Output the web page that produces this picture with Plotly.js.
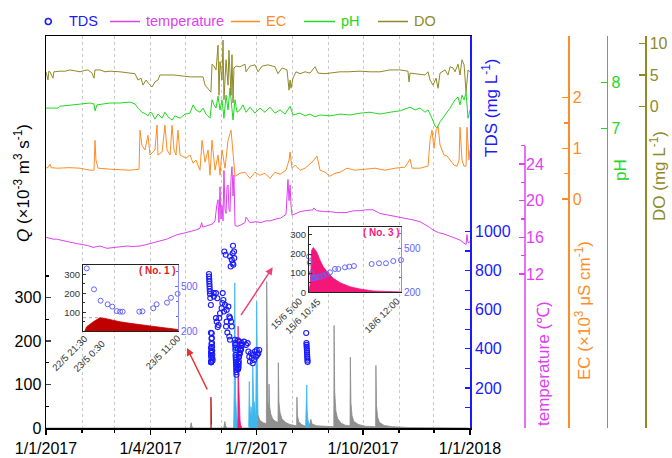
<!DOCTYPE html>
<html><head><meta charset="utf-8">
<script src="https://cdn.plot.ly/plotly-3.0.1.min.js"></script>
<style>html,body{margin:0;padding:0;background:#fff}</style>
</head><body><div id="chart" style="width:672px;height:458px"></div>
<script>
// ---------------- DATA ----------------
// Discharge Q (x10^-3 m3/s), grey background series
const qGreyTime = ["2017-01-01","2017-05-05 00:00","2017-05-06 00:00","2017-05-06 12:00","2017-05-08 00:00",
 "2017-06-03 00:00","2017-06-04 00:00","2017-06-04 12:00","2017-06-06 00:00","2017-07-02 11:00","2017-07-02 12:00",
 "2017-07-04 00:00","2017-07-07 00:00","2017-07-09 18:00","2017-07-10 00:00","2017-07-10 12:00","2017-07-11 00:00",
 "2017-07-11 18:00","2017-07-12 00:00","2017-07-12 12:00","2017-07-13 12:00","2017-07-15 00:00","2017-07-17 00:00",
 "2017-07-19 18:00","2017-07-20 00:00","2017-07-20 12:00","2017-07-21 12:00","2017-07-23 00:00","2017-07-26 00:00",
 "2017-07-30 00:00","2017-08-04 18:00","2017-08-05 00:00","2017-08-05 12:00","2017-08-06 12:00","2017-08-09 00:00",
 "2017-08-12 12:00","2017-08-16 00:00","2017-08-17 00:00","2017-08-18 00:00","2017-08-22 00:00","2017-09-05 18:00",
 "2017-09-06 00:00","2017-09-06 12:00","2017-09-07 12:00","2017-09-09 00:00","2017-09-12 00:00","2017-09-16 00:00",
 "2017-09-19 18:00","2017-09-20 00:00","2017-09-20 12:00","2017-09-21 12:00","2017-09-23 00:00","2017-09-27 00:00",
 "2017-10-03 00:00","2017-10-11 18:00","2017-10-12 00:00","2017-10-12 12:00","2017-10-13 12:00","2017-10-15 00:00",
 "2017-10-19 00:00","2017-10-26 00:00","2017-11-10 00:00","2017-12-31 00:00"];
const qGreyVal = [0,0,12,4,0, 0,15,5,0,0,30, 18,12,10,337,120,60, 45,101,50,32,22,16, 13,150,60,35,22,13,
 8,5,71,28,15,8, 4,8,20,9,5,3, 236,85,40,22,11,6, 5,163,58,28,15,8, 4,3,144,52,25,13, 6,3,1,0];
// Cyan events
const qCyanATime = ["2017-06-11 12:00","2017-06-12 00:00","2017-06-12 12:00","2017-06-12 18:00","2017-06-13 06:00","2017-06-14 00:00","2017-06-14 18:00","2017-06-15 04:00","2017-06-15 04:30"];
const qCyanAVal = [0,90,334,150,70,35,15,8,0];
const qCyanBTime = ["2017-06-24 12:00","2017-06-25 00:00","2017-06-25 12:00","2017-06-26 00:00","2017-06-26 12:00","2017-06-27 00:00","2017-06-27 12:00","2017-06-28 00:00","2017-06-28 12:00","2017-06-29 00:00","2017-06-29 06:00","2017-06-29 18:00","2017-06-30 12:00","2017-07-01 09:00","2017-07-01 18:00","2017-07-02 06:00","2017-07-02 12:00"];
const qCyanBVal = [3,107,40,25,49,30,25,145,60,40,60,30,22,291,110,50,30];
const qCyanCTime = ["2017-08-12 12:00","2017-08-13 12:00","2017-08-13 20:00","2017-08-14 12:00","2017-08-15 12:00","2017-08-16 00:00"];
const qCyanCVal = [4,99,40,18,9,8];
// Event No.1 (22/5 - 23/5)
const ev1Time = ["2017-05-22 21:45","2017-05-22 22:02","2017-05-22 22:58","2017-05-22 23:55","2017-05-23 00:36","2017-05-23 01:35","2017-05-23 02:45","2017-05-23 04:10","2017-05-23 05:36","2017-05-23 07:00","2017-05-23 08:26","2017-05-23 09:53","2017-05-23 10:48","2017-05-23 11:00"];
const ev1Q = [0,23,49,71,67,58,49,41,32,27,20,14,9,8];
const ev1TdsTime = ["2017-05-22 22:02","2017-05-22 23:04","2017-05-23 00:00","2017-05-23 01:00","2017-05-23 01:40","2017-05-23 02:18","2017-05-23 02:46","2017-05-23 03:08","2017-05-23 05:30","2017-05-23 05:57","2017-05-23 07:29","2017-05-23 07:58","2017-05-23 09:26","2017-05-23 10:00","2017-05-23 10:57"];
const ev1Tds = [624,482,405,381,365,335,331,331,331,333,354,381,392,425,452];
// Event No.3 (15/6 - 18/6)
const ev3Time = ["2017-06-15 04:30","2017-06-15 06:00","2017-06-15 06:45","2017-06-15 07:18","2017-06-15 08:42","2017-06-15 10:00","2017-06-15 11:36","2017-06-15 14:26","2017-06-15 17:18","2017-06-15 21:34","2017-06-16 01:54","2017-06-16 07:38","2017-06-16 16:12","2017-06-17 00:48","2017-06-17 12:12","2017-06-18 11:54"];
const ev3Q = [0,40,130,220,234,222,211,168,133,99,73,50,29,17,7,2];
const ev3TdsTime = ["2017-06-15 05:00","2017-06-15 05:40","2017-06-15 07:18","2017-06-15 08:42","2017-06-15 10:00","2017-06-15 11:36","2017-06-15 14:26","2017-06-15 17:18","2017-06-15 20:12","2017-06-15 23:00","2017-06-16 03:18","2017-06-16 06:12","2017-06-16 11:54","2017-06-16 15:36","2017-06-16 19:36","2017-06-17 10:48","2017-06-17 17:06","2017-06-17 23:06","2017-06-18 05:24","2017-06-18 12:00"];
const ev3Tds = [443,402,330,295,298,302,306,313,325,336,359,359,370,375,379,393,398,398,413,420];
// TDS (mg/L) other samples, day of year 2017
const tdsDay = [140.3,140.4,140.5,140.6,140.7,140.8,140.9,141.0,141.2,141.4,
 142.7,142.8,142.9,143.0,143.1,143.2,143.3,143.4,144.4,144.5,
 146.3,147.5,146.3,146.9,147.8,148.4,149.2,149.8,151.2,151.8,152.1,152.7,154.1,153.2,155.5,155.5,155.0,156.1,157.0,157.8,158.4,159.3,159.9,157.8,158.4,
 153.5,154.7,158.4,159.9,160.7,161.3,159.0,162.1,160.7,161.9,161.0,
 162.6,162.8,163.0,163.2,163.4,163.6,163.8,164.0,162.9,163.1,163.3,163.5,163.7,163.9,
 166.4,168.5,170.5,172.2,173.6,
 174.2,175.0,175.6,176.5,177.1,178.0,178.5,179.1,179.9,180.8,181.4,181.9,182.8,183.6,
 224.0,224.2,224.3,224.4,224.5,224.6,224.7,224.8,224.9,225.0,225.1,225.2];
const tdsVal = [783,770,757,745,732,720,707,694,680,660,
 480,455,430,410,390,370,350,340,685,667,
 685,659,557,539,511,522,557,582,608,634,685,650,625,591,599,539,514,483,616,565,557,539,514,463,446,
 898,881,872,855,838,830,821,864,889,898,927,
 446,420,394,369,343,318,292,267,430,405,356,330,305,280,
 437,429,437,420,429,
 386,360,335,377,352,326,369,343,386,360,394,369,377,394,
 481,430,420,410,400,390,380,370,360,350,340,333];
// Temperature (deg C)
const tempDay = [0,3,6,9,12.1,16,20.7,23.2,27,31.9,36,40.5,44,46.5,50,52.5,56,59.4,64,69.7,75,80.9,86,92.1,96,100.7,104,109.3,113,117,120.5,125,129,132.6,134,135,138,142,143.8,145.5,147,148.1,148.9,149.8,150.6,151.5,152.4,153.2,154.1,155.0,155.8,156.7,157.5,158.4,159.3,160.1,161.0,161.8,162.7,164.4,167,171.3,172.2,175.6,180.8,185,189.4,193,198,202,206.6,208.3,209.2,210.1,210.9,211.8,215.2,218.7,223,229.9,230.5,233,240,244.5,250,258.3,265,270.3,275,281.5,287.5,292,298.7,305,316,322,326.3,330,333.2,338,341.8,347,350.4,356.4,361.6,362.4,363.3,365];
const tempVal = [16.0,15.9,15.8,15.8,15.7,15.6,15.5,15.4,15.3,15.2,15.1,14.9,15.0,15.05,14.9,14.8,14.85,14.9,15.0,15.05,15.0,15.05,15.2,15.4,15.5,15.7,15.8,16.1,16.3,16.4,16.5,16.7,16.8,17.0,17.6,17.1,17.2,17.4,17.5,17.8,19.5,20.1,17.6,21.5,18.0,19.5,17.8,23.3,19.0,18.6,21.5,21.7,19.0,18.8,22.5,23.7,20.5,22.8,17.3,17.2,17.3,17.6,18.2,17.6,17.7,17.6,17.8,17.8,18.0,18.1,18.5,22.3,20.0,21.7,19.5,18.4,18.6,18.8,18.9,19.0,19.2,18.9,18.8,18.8,18.7,18.7,18.9,18.9,19.0,19.0,18.6,18.5,18.3,18.2,17.9,17.7,17.4,17.1,16.8,16.5,16.4,16.2,16.0,15.7,15.2,16.3,15.4,15.5];
// EC (x10^3 uS/cm)
const ecDay = [0,2,3.4,4.5,10,20,29.3,37.9,41.3,42.2,43.0,44.8,55.1,72.3,80.1,80.9,82.6,85.2,87.8,89.5,93.8,95.6,96.4,99.9,102.4,104.2,106.8,108.5,110.2,111.9,113.6,115.4,120.5,124.0,126.6,129.1,132.6,134.3,136.9,139.5,141.2,142.9,145.5,148.1,149.8,151.5,154.1,156.7,159.3,161.0,162.7,167,171.3,175.6,179.9,184.2,188.5,192.8,197.1,201.5,206.6,209.2,210.1,211.8,214.4,218.7,223,229,231.6,233.3,235.9,240.2,244.5,248.8,253.1,259.1,266,274.6,283.2,291.8,300.5,309.1,313.4,315.1,322,328.9,330.6,332.3,334,335.8,337.5,339.2,342.6,345.2,347.8,351.2,353.8,355.6,356.4,358.1,359.9,361.6,362.4,364.1,365];
const ecVal = [0.61,0.63,0.69,0.62,0.61,0.62,0.61,0.57,0.57,1.16,0.77,0.61,0.59,0.57,0.59,1.36,1.06,0.97,1.26,0.87,0.97,1.46,0.87,0.93,1.46,0.97,0.87,1.46,0.97,0.87,1.36,0.87,0.81,0.87,0.71,0.77,0.57,1.16,0.73,0.97,0.47,1.16,0.57,0.87,0.47,0.97,0.61,1.16,1.36,0.97,0.45,0.51,0.53,0.41,0.53,0.47,0.51,0.41,0.53,0.49,0.57,0.77,0.93,0.61,0.67,0.57,0.61,0.73,0.81,0.85,0.57,0.53,0.45,0.51,0.53,0.61,0.57,0.59,0.61,0.57,0.61,0.63,0.79,0.61,0.61,0.65,1.16,1.36,1.0,1.36,1.44,1.07,0.87,0.85,0.77,0.67,0.65,0.77,1.42,0.77,0.65,0.65,1.42,0.77,0.97];
// pH
const phDay = [0,5,10.3,12.1,16,20.7,25,29.3,35,37.9,41.3,42.2,43.9,50,55.1,63.7,72.3,76.6,79.2,82.6,86,87.8,89.5,91.3,93.8,96.4,99.9,102.4,105,108.5,111.1,115.4,119.7,124,126.6,129.1,132.6,135.2,137.7,141.2,142.9,144.6,146.4,148.1,149.8,151.5,153.2,155,156.7,158.4,160.1,161,162.7,164.4,167,169.6,172.2,175.6,179.9,184.2,188.5,192.8,197.1,201.5,205.8,210.1,212.6,218.7,223,227.3,231.6,235.9,244.5,253.1,261.7,270.3,278.9,287.5,296.2,304.8,309.1,313.4,317.7,322,326.3,328.9,332.3,334.9,336.6,339.2,343.5,347.8,352.1,354.7,356.4,358.1,359.9,361.6,363.3,365];
const phVal = [7.44,7.44,7.44,7.48,7.49,7.51,7.51,7.53,7.54,7.55,7.53,7.38,7.51,7.54,7.55,7.55,7.57,7.53,7.44,7.35,7.31,7.27,7.35,7.33,7.20,7.31,7.22,7.35,7.25,7.18,7.27,7.22,7.31,7.33,7.51,7.40,7.35,7.44,7.31,7.22,7.62,7.51,7.44,7.70,7.40,7.62,7.22,7.72,7.40,7.88,7.29,7.18,7.62,7.35,7.40,7.51,7.35,7.46,7.33,7.44,7.35,7.46,7.33,7.40,7.31,7.48,7.29,7.33,7.27,7.31,7.25,7.29,7.27,7.31,7.29,7.33,7.35,7.31,7.35,7.38,7.42,7.46,7.40,7.44,7.35,7.40,7.22,7.05,7.01,7.14,7.29,7.44,7.62,7.68,7.51,7.72,7.62,7.79,7.22,7.40];
// DO (mg/L)
const doDay = [0,1.7,2.5,3.4,6.0,6.8,12.1,16.4,20.7,25,29.3,33,36.2,39.6,41.3,42.2,46.5,50.8,55.1,63.7,72.3,76.6,79.2,81.8,83.5,86.1,88.7,91.3,93.8,96.4,98.1,110,124,135.2,136.9,140.3,142,142.9,144.6,146.4,148.1,148.9,149.8,151.5,152.4,153.2,155,156.7,157.5,159.3,160.1,161,161.8,163.6,167,171.3,172.2,175.6,179.9,182.5,186,191.1,197.1,199.7,203.2,207.5,209.2,210.1,210.9,212.6,215.2,218.7,223,227.3,231.6,234.2,240.2,244.5,253.1,260,270.3,278.9,287.5,296.2,304.8,311.6,312.5,313.4,317.7,326.3,328.9,330.6,333.2,335.8,337.5,339.2,343.5,346.1,347.8,350.4,352.1,354.7,356.4,358.1,359.9,361.6,363.3,365];
const doVal = [5.5,4.2,5.6,5.5,4.5,5.5,5.6,5.6,5.8,5.6,5.5,5.7,5.8,5.3,4.5,5.8,5.8,5.5,5.6,5.5,5.3,5.2,4.2,4.5,3.4,4.2,3.6,3.1,3.9,4.2,5.0,5.0,4.7,4.7,3.4,2.6,2.3,6.7,6.4,5.8,9.7,1.8,7.1,4.2,10.5,1.1,7.4,3.4,8.9,1.8,8.2,0.6,6.1,6.4,6.3,6.7,5.5,6.4,6.6,5.5,6.4,6.6,6.3,5.2,6.1,5.8,2.6,4.2,2.9,4.5,5.5,5.2,5.5,5.3,6.3,5.3,5.2,5.3,5.5,5.5,5.6,5.5,5.5,5.8,5.8,5.6,3.9,5.3,5.2,5.0,5.5,4.2,3.4,4.5,2.9,5.3,5.8,5.0,6.3,6.1,5.5,6.7,5.0,7.4,6.6,2.3,5.8,5.5];
// Tick labels
const qTicks = [0,100,200,300];
const tdsTicks = [200,400,600,800,1000];
const tempTicks = [12,16,20,24];
const ecTicks = [0,1,2];
const phTicks = [7,8];
const doTicks = [0,5,10];
const inset1TickText = ["22/5 21:30","23/5 0:30","23/5 11:00"];
const inset3TickText = ["15/6 5:00","15/6 10:45","18/6 12:00"];

// ---------------- LAYOUT HELPERS ----------------
const ML=46, MR=12, MT=36, MB=30, W=672, H=458;
const PW=W-ML-MR, PH=H-MT-MB;
const px = x => (x-ML)/PW;
const py = y => (MT+PH-y)/PH;
const dayToDate = d => new Date(Date.UTC(2017,0,1)+d*86400000).toISOString().slice(0,16).replace('T',' ');

const FONT = 'Arial, "Liberation Sans", sans-serif';
const C = {tds:'#1a1aff', temp:'#e040f0', ec:'#ff8c26', ph:'#22d822', dO:'#8e8a26',
  grey:'#8c8c8c', cyan:'#3cb6ee', pink:'#f5167a', dred:'#b80000', tdsL:'#6464ff'};

const traces = [
 {x:qGreyTime, y:qGreyVal, type:'scatter', mode:'lines', fill:'tozeroy', line:{color:C.grey,width:0.8}, fillcolor:'#8f8f8f', xaxis:'x', yaxis:'y', name:'Q'},
 {x:qCyanATime, y:qCyanAVal, type:'scatter', mode:'lines', fill:'tozeroy', line:{color:C.cyan,width:0.8}, fillcolor:C.cyan, xaxis:'x', yaxis:'y'},
 {x:qCyanBTime, y:qCyanBVal, type:'scatter', mode:'lines', fill:'tozeroy', line:{color:C.cyan,width:0.8}, fillcolor:C.cyan, xaxis:'x', yaxis:'y'},
 {x:qCyanCTime, y:qCyanCVal, type:'scatter', mode:'lines', fill:'tozeroy', line:{color:C.cyan,width:0.8}, fillcolor:C.cyan, xaxis:'x', yaxis:'y'},
 {x:ev1Time, y:ev1Q, type:'scatter', mode:'lines', fill:'tozeroy', line:{color:C.dred,width:0.8}, fillcolor:C.dred, xaxis:'x', yaxis:'y'},
 {x:ev3Time, y:ev3Q, type:'scatter', mode:'lines', fill:'tozeroy', line:{color:C.pink,width:0.8}, fillcolor:C.pink, xaxis:'x', yaxis:'y'},
 {x:tdsDay.map(dayToDate).concat(ev1TdsTime, ev3TdsTime), y:tdsVal.concat(ev1Tds, ev3Tds), type:'scatter', mode:'markers',
  marker:{symbol:'circle-open', size:5, color:C.tds, line:{width:1.1}}, xaxis:'x', yaxis:'y2', name:'TDS'},
 {x:tempDay.map(dayToDate), y:tempVal, type:'scatter', mode:'lines', line:{color:C.temp,width:1}, xaxis:'x', yaxis:'y3', name:'temperature'},
 {x:ecDay.map(dayToDate), y:ecVal, type:'scatter', mode:'lines', line:{color:C.ec,width:1}, xaxis:'x', yaxis:'y4', name:'EC'},
 {x:phDay.map(dayToDate), y:phVal, type:'scatter', mode:'lines', line:{color:C.ph,width:1}, xaxis:'x', yaxis:'y5', name:'pH'},
 {x:doDay.map(dayToDate), y:doVal, type:'scatter', mode:'lines', line:{color:C.dO,width:1}, xaxis:'x', yaxis:'y6', name:'DO'},
 // inset No.1
 {x:ev1Time, y:ev1Q, type:'scatter', mode:'lines', fill:'tozeroy', line:{color:'#c00000',width:0.8}, fillcolor:'#c00000', xaxis:'x2', yaxis:'y7'},
 {x:ev1TdsTime, y:ev1Tds, type:'scatter', mode:'markers', cliponaxis:false, marker:{symbol:'circle-open', size:5, color:C.tdsL, line:{width:1}}, xaxis:'x2', yaxis:'y8'},
 // inset No.3
 {x:ev3Time, y:ev3Q, type:'scatter', mode:'lines', fill:'tozeroy', line:{color:C.pink,width:0.8}, fillcolor:C.pink, xaxis:'x3', yaxis:'y9'},
 {x:ev3TdsTime, y:ev3Tds, type:'scatter', mode:'markers', cliponaxis:false, marker:{symbol:'circle-open', size:5, color:C.tdsL, line:{width:1}}, xaxis:'x3', yaxis:'y10'}
];

const rightAxis = (pos, range, ticks, minor, color) => ({
  overlaying:'y', anchor:'free', position:px(pos), side:'right', range:range,
  tickmode:'array', tickvals:ticks, ticks:'inside', ticklen:6, tickwidth:1.3, tickcolor:color,
  minor:{tickmode:'array', tickvals:minor, ticks:'inside', ticklen:4, tickcolor:color, tickwidth:1.3},
  tickfont:{family:FONT, size:16, color:color}, showline:true, linecolor:color, linewidth:1.5,
  showgrid:false, zeroline:false, automargin:false
});

const insetY = (dom, range, ticks, minor) => ({
  domain:dom, anchor:'', range:range, tickmode:'array', tickvals:ticks, ticks:'inside', ticklen:3, tickcolor:'#333',
  minor:{tickmode:'array', tickvals:minor, ticks:'inside', ticklen:2, tickcolor:'#333'},
  tickfont:{family:FONT, size:9.5, color:'#333'}, showline:true, linecolor:'#222', linewidth:1,
  showgrid:false, zeroline:false, automargin:false
});
const insetTds = (ov, anc, range) => ({
  overlaying:ov, anchor:anc, side:'right', range:range, tickmode:'array', tickvals:[200,500], ticks:'inside', ticklen:3, tickcolor:C.tdsL,
  minor:{tickmode:'array', tickvals:[300,400,600], ticks:'inside', ticklen:2, tickcolor:C.tdsL},
  tickfont:{family:FONT, size:10, color:C.tdsL}, showline:true, linecolor:'#8a8aff', linewidth:1,
  showgrid:false, zeroline:false, automargin:false
});
const insetX = (dom, anc, range) => ({
  type:'date', domain:dom, anchor:anc, range:range, showline:true, linecolor:'#222', linewidth:1, mirror:true,
  ticks:'', showticklabels:false, showgrid:false, zeroline:false, automargin:false
});

const y7 = insetY([py(331), py(265)], [0,351], [100,200,300], [50,150,250]); y7.anchor='x2';
const y9 = insetY([py(292.3), py(227)], [0,341], [0,100,200,300], [50,150,250]); y9.anchor='x3';

const ann = [];
const addText = (text, x, y, opts) => ann.push(Object.assign({text:text, x:px(x), y:py(y), xref:'paper', yref:'paper', showarrow:false,
  xanchor:'center', yanchor:'middle', font:{family:FONT, size:17, color:'#000'}}, opts||{}));
// axis titles
addText('<i>Q</i> (×10<sup>-3</sup> m<sup>3</sup> s<sup>-1</sup>)', 22, 183, {textangle:-90});
addText('TDS (mg L<sup>-1</sup>)', 490, 108, {textangle:-90, font:{family:FONT,size:17,color:C.tds}});
addText('temperature (℃)', 543, 364, {textangle:-90, font:{family:FONT,size:17,color:C.temp}});
addText('EC (×10<sup>3</sup> μS cm<sup>-1</sup>)', 583, 311, {textangle:-90, font:{family:FONT,size:17,color:C.ec}});
addText('pH', 620, 170, {textangle:-90, font:{family:FONT,size:17,color:C.ph}});
addText('DO (mg L<sup>-1</sup>)', 658, 176, {textangle:-90, font:{family:FONT,size:17,color:C.dO}});
// legend
const legItems = [['TDS',67,C.tds],['temperature',144,C.temp],['EC',264,C.ec],['pH',339,C.ph],['DO',412,C.dO]];
legItems.forEach(it => addText(it[0], it[1], 21, {xanchor:'left', font:{family:FONT,size:14.5,color:it[2]}}));
// inset titles
addText('<b>( No. 1 )</b>', 157, 270, {font:{family:FONT,size:10,color:'#e02020'}});
addText('<b>( No. 3 )</b>', 381, 232, {font:{family:FONT,size:10,color:C.pink}});
// inset tick labels
[[inset1TickText[0],69,353],[inset1TickText[1],88.5,356],[inset1TickText[2],162.5,352.5],
 [inset3TickText[0],286,313],[inset3TickText[1],302,316],[inset3TickText[2],381.5,315]].forEach(t =>
  addText(t[0], t[1], t[2], {textangle:-45, font:{family:FONT,size:9.5,color:'#333'}}));
// arrows
ann.push({x:px(187), y:py(348), xref:'paper', yref:'paper', text:'', showarrow:true, ax:21, ay:43,
  arrowhead:2, arrowsize:1, arrowwidth:1.5, arrowcolor:'#e8322b'});
ann.push({x:px(272.7), y:py(267.3), xref:'paper', yref:'paper', text:'', showarrow:true, ax:-32.7, ay:49.4,
  arrowhead:2, arrowsize:1, arrowwidth:1.5, arrowcolor:'#f0407c'});

const shapes = [
  {type:'line', xref:'paper', yref:'y3', x0:px(525), x1:px(525), y0:-4.8, y1:26, line:{color:C.temp, width:1.5}},
  {type:'circle', xref:'paper', yref:'paper', xsizemode:'pixel', ysizemode:'pixel', xanchor:px(48.3), yanchor:py(21.5),
   x0:-3, x1:3, y0:-3, y1:3, line:{color:C.tds, width:1.6}},
  {type:'line', xref:'paper', yref:'paper', x0:px(110), x1:px(140), y0:py(21.5), y1:py(21.5), line:{color:C.temp,width:1.5}},
  {type:'line', xref:'paper', yref:'paper', x0:px(231), x1:px(260), y0:py(21.5), y1:py(21.5), line:{color:C.ec,width:1.5}},
  {type:'line', xref:'paper', yref:'paper', x0:px(304), x1:px(335), y0:py(21.5), y1:py(21.5), line:{color:C.ph,width:1.5}},
  {type:'line', xref:'paper', yref:'paper', x0:px(378), x1:px(408), y0:py(21.5), y1:py(21.5), line:{color:C.dO,width:1.5}},
  {type:'line', xref:'x2', yref:'y7', x0:'2017-05-22 21:30', x1:'2017-05-23 00:00', y0:71, y1:71, line:{color:'#aaa',width:1,dash:'dot'}}
];

const layout = {
  width:W, height:H, margin:{l:ML, r:MR, t:MT, b:MB}, showlegend:false,
  paper_bgcolor:'#fff', plot_bgcolor:'rgba(0,0,0,0)', font:{family:FONT, color:'#000'},
  xaxis:{type:'date', domain:[0, px(470)], anchor:'y', range:['2017-01-01','2018-01-01'],
    showline:true, linecolor:'#000', linewidth:1.5, mirror:true,
    ticks:'outside', ticklen:5, tickwidth:1.3, tickcolor:'#000', dtick:'M3', tick0:'2017-01-01', tickformat:'%-d/%-m/%Y',
    tickfont:{family:FONT, size:16, color:'#000'},
    showgrid:true, gridcolor:'#c8c8c8', griddash:'3px,3px', gridwidth:1,
    minor:{dtick:'M1', tick0:'2017-01-01', ticks:'outside', ticklen:3, tickcolor:'#000', showgrid:true, gridcolor:'#c8c8c8', griddash:'3px,3px'},
    zeroline:false, automargin:false},
  yaxis:{domain:[0,1], anchor:'x', range:[0,902], tickmode:'array', tickvals:qTicks, ticks:'inside', ticklen:5, tickwidth:1.3,
    minor:{tickmode:'array', tickvals:[50,150,250,350], ticks:'inside', ticklen:3, tickcolor:'#000'},
    tickfont:{family:FONT, size:16, color:'#000'}, showline:true, linecolor:'#000', linewidth:1.5, showgrid:false, zeroline:false, automargin:false},
  yaxis2:{overlaying:'y', anchor:'x', side:'right', range:[-5,2000], tickmode:'array', tickvals:tdsTicks, ticks:'inside', ticklen:5, tickwidth:1.3, tickcolor:C.tds,
    minor:{tickmode:'array', tickvals:[100,300,500,700,900], ticks:'inside', ticklen:5, tickcolor:C.tds},
    tickfont:{family:FONT, size:16, color:C.tds}, showline:true, linecolor:C.tds, linewidth:1.8, showgrid:false, zeroline:false, automargin:false},
  yaxis3:Object.assign(rightAxis(525, [-4.8,37.96], tempTicks, [14,18,22,26], C.temp), {showline:false}),
  yaxis4:rightAxis(568, [-4.52,3.22], ecTicks, [0.5,1.5], C.ec),
  yaxis5:rightAxis(606.7, [0.485,9.007], phTicks, [], C.ph),
  yaxis6:rightAxis(645, [-50.7,11.15], doTicks, [], C.dO),
  xaxis2:insetX([px(83), px(178)], 'y7', ['2017-05-22 21:30','2017-05-23 11:00']),
  yaxis7:y7,
  yaxis8:insetTds('y7','x2',[200,647]),
  xaxis3:insetX([px(309), px(401)], 'y9', ['2017-06-15 05:00','2017-06-18 12:00']),
  yaxis9:y9,
  yaxis10:insetTds('y9','x3',[200,645]),
  annotations:ann, shapes:shapes
};

Plotly.newPlot('chart', traces, layout, {staticPlot:true, displayModeBar:false});
</script></body></html>
